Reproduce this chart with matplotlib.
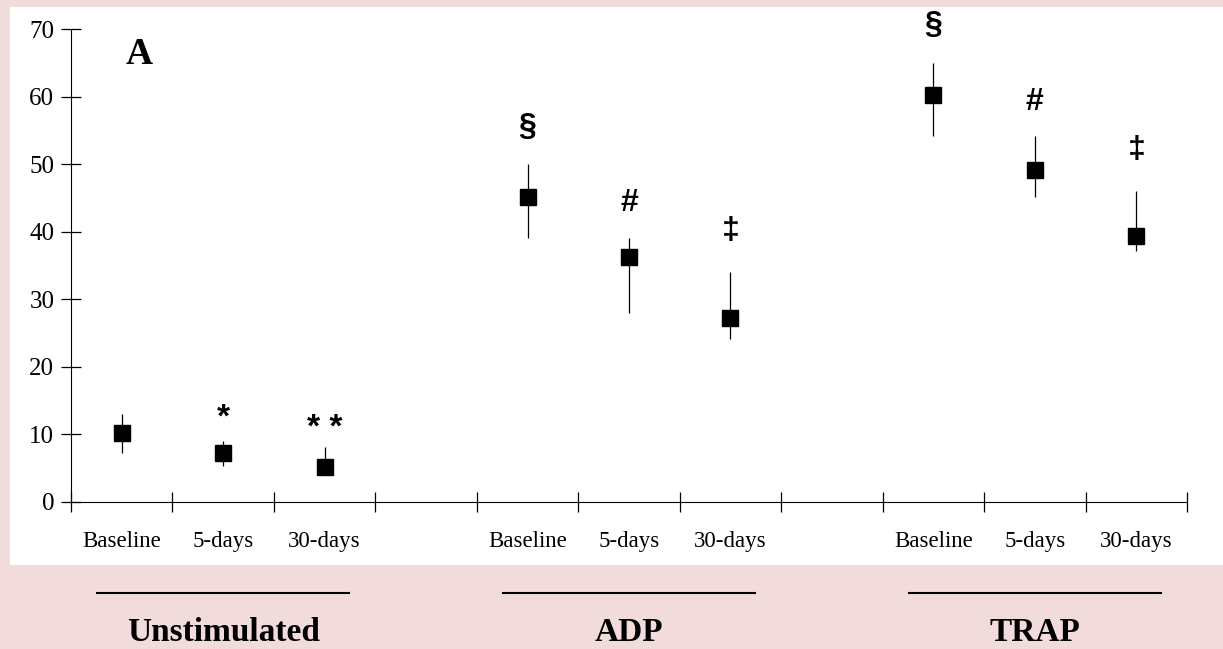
import matplotlib.pyplot as plt
from matplotlib.patches import Rectangle

# values
groups = ["Unstimulated", "ADP", "TRAP"]
timepoints = ["Baseline", "5-days", "30-days"]

unstim_mean = [10.2, 7.2, 5.2]
unstim_low = [7.2, 5.3, 4.5]
unstim_high = [13.0, 9.1, 8.2]

adp_mean = [45.2, 36.2, 27.3]
adp_low = [39.1, 28.0, 24.1]
adp_high = [50.0, 39.1, 34.0]

trap_mean = [60.2, 49.1, 39.3]
trap_low = [54.1, 45.2, 37.1]
trap_high = [65.0, 54.1, 46.0]

unstim_marks = ["", "*", "* *"]
adp_marks = ["§", "#", "‡"]
trap_marks = ["§", "#", "‡"]

pink = "#f2dcdb"
serif = ["Liberation Serif", "DejaVu Serif"]

fig = plt.figure(figsize=(12.23, 6.49), dpi=100, facecolor=pink)
# white panel behind the plot
fig.patches.append(Rectangle((10 / 1223, 1 - 565 / 649), 1 - 10 / 1223, (565 - 7) / 649,
                             transform=fig.transFigure, facecolor="white", edgecolor="none", zorder=-1))

ax = fig.add_axes([71 / 1223, 1 - 502 / 649, (1187 - 71) / 1223, (502 - 29) / 649])
ax.set_facecolor("none")

data = [
    (unstim_mean, unstim_low, unstim_high, unstim_marks),
    (adp_mean, adp_low, adp_high, adp_marks),
    (trap_mean, trap_low, trap_high, trap_marks),
]

# offsets (points) for the significance marks above the error bar
mark_offset = {"*": 16, "* *": 13, "§": 27, "#": 25, "‡": 30}

label_pos = []
for g, (mean, low, high, marks) in enumerate(data):
    x = [4 * g + i + 0.5 for i in range(3)]
    label_pos += x
    err = [[m - l for m, l in zip(mean, low)], [h - m for h, m in zip(high, mean)]]
    ax.errorbar(x, mean, yerr=err, fmt="s", color="black", ms=11.5, elinewidth=0.9,
                capsize=0, clip_on=False, zorder=3)
    for xi, hi, mk in zip(x, high, marks):
        if mk:
            size = 24 if "*" in mk else 23
            ax.annotate(mk, (xi, hi), xytext=(0, mark_offset[mk]), textcoords="offset points",
                        ha="center", va="center", fontsize=size, fontweight="bold",
                        family=["Liberation Sans", "DejaVu Sans"], annotation_clip=False)

ax.set_xlim(0, 11)
ax.set_ylim(0, 70)
ax.spines["top"].set_visible(False)
ax.spines["right"].set_visible(False)
ax.set_xticks(range(12))
ax.set_xticklabels([])
ax.set_yticks(range(0, 71, 10))
ax.tick_params(axis="both", which="major", direction="inout", length=14, width=0.9)
ax.tick_params(axis="y", pad=5)
for lab in ax.get_yticklabels():
    lab.set_fontfamily(serif)
    lab.set_fontsize(18)

ax.set_xticks(label_pos, minor=True)
ax.set_xticklabels(timepoints * 3, minor=True, fontsize=16.5, family=serif)
ax.tick_params(axis="x", which="minor", length=0, pad=21)

ax.text(0.675, 66.2, "A", fontsize=27, fontweight="bold", family=serif, ha="center", va="center")

# group labels with lines above
trans = ax.get_xaxis_transform()
for g, name in enumerate(groups):
    c = 4 * g + 1.5
    ax.plot([c - 1.24, c + 1.24], [-0.192, -0.192], color="black", lw=1.5,
            transform=trans, clip_on=False)
    ax.text(c, -0.276, name, transform=trans, ha="center", va="center",
            fontsize=24, fontweight="bold", family=serif)

plt.savefig("out.png", dpi=100, facecolor=pink)
